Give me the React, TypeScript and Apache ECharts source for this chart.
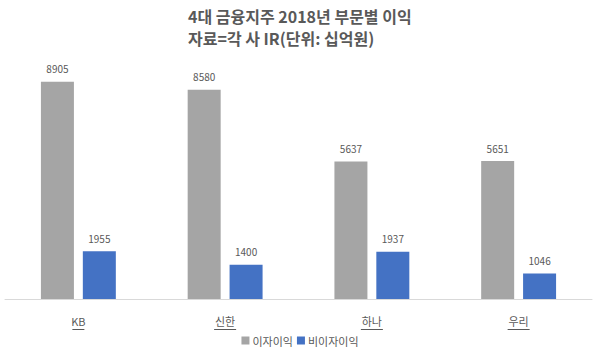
import React, { useEffect, useRef } from "react";
import * as echarts from "echarts";

const categories = ["KB", "신한", "하나", "우리"];
const interestIncome = [8905, 8580, 5637, 5651];
const nonInterestIncome = [1955, 1400, 1937, 1046];
const seriesNames = ["이자이익", "비이자이익"];
const titleLines = ["4대 금융지주 2018년 부문별 이익", "자료=각 사 IR(단위: 십억원)"];

const FONT = "'Noto Sans CJK KR', 'Noto Sans', sans-serif";
const TXT = "#595959";

export default function App() {
  const ref = useRef<HTMLDivElement>(null);
  useEffect(() => {
    if (!ref.current) return;
    const chart = echarts.init(ref.current, undefined, { renderer: "svg" });
    const labelCfg = {
      show: true,
      position: "top" as const,
      distance: 8,
      color: TXT,
      fontSize: 10,
      fontFamily: FONT,
    };
    chart.setOption({
      animation: false,
      textStyle: { fontFamily: FONT },
      title: {
        text: titleLines.join("\n"),
        left: 183,
        top: 0,
        textStyle: {
          fontSize: 16,
          fontWeight: "bold",
          color: TXT,
          fontFamily: FONT,
          lineHeight: 22,
        },
      },
      legend: {
        bottom: 7,
        left: "center",
        itemWidth: 8,
        itemHeight: 8,
        itemGap: 4,
        icon: "rect",
        textStyle: { color: TXT, fontSize: 11, fontFamily: FONT, padding: [0, 0, 0, -2] },
        data: seriesNames,
      },
      grid: { left: 5, right: 8, top: 55, bottom: 59, containLabel: false },
      xAxis: {
        type: "category",
        data: categories,
        axisLine: { lineStyle: { color: "#d9d9d9", width: 1 } },
        axisTick: { show: false },
        axisLabel: {
          color: TXT,
          fontSize: 11,
          fontFamily: FONT,
          margin: 16,
        },
      },
      yAxis: {
        type: "value",
        min: 0,
        max: 10000,
        show: false,
        splitLine: { show: false },
      },
      series: [
        {
          name: seriesNames[0],
          type: "bar",
          data: interestIncome,
          barWidth: 33,
          barGap: "27%",
          itemStyle: { color: "#a5a5a5" },
          label: labelCfg,
        },
        {
          name: seriesNames[1],
          type: "bar",
          data: nonInterestIncome,
          barWidth: 33,
          itemStyle: { color: "#4472c4" },
          label: labelCfg,
        },
      ],
    });
    // underline category labels
    const lines: any[] = [];
    categories.forEach((c, i) => {
      const p = chart.convertToPixel({ xAxisIndex: 0 }, i) as number;
      const w = c === "KB" ? 12 : 22;
      lines.push({
        type: "line",
        shape: { x1: p - w / 2, y1: 329.5, x2: p + w / 2, y2: 329.5 },
        style: { stroke: TXT, lineWidth: 1 },
      });
    });
    chart.setOption({ graphic: lines });
    return () => chart.dispose();
  }, []);
  return (
    <div
      ref={ref}
      style={{ position: "absolute", left: 0, top: 0, width: 600, height: 358 }}
    />
  );
}
